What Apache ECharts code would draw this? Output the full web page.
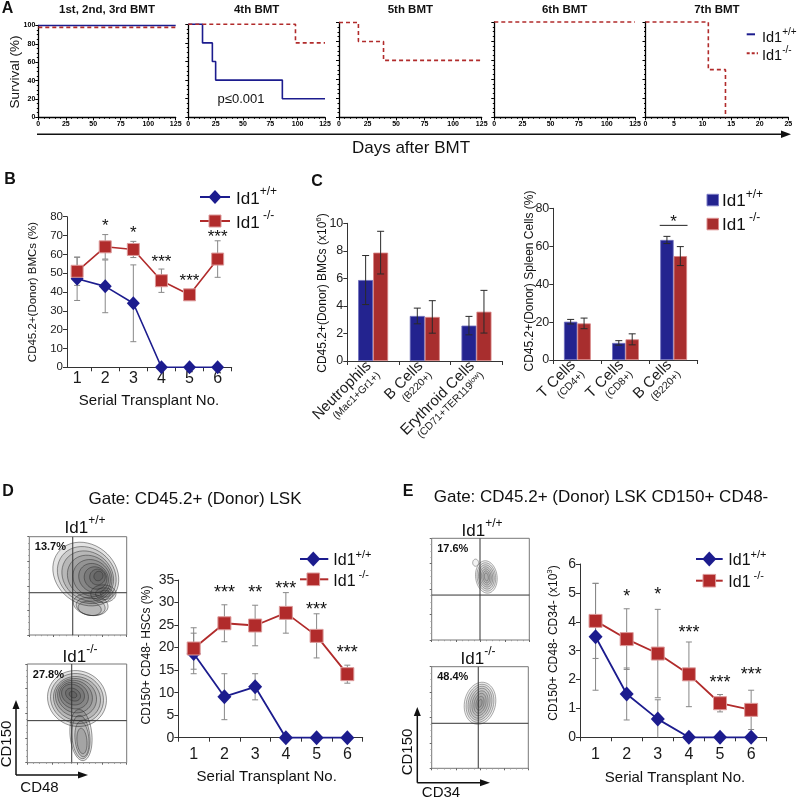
<!DOCTYPE html>
<html>
<head>
<meta charset="utf-8">
<script src="https://cdn.jsdelivr.net/npm/echarts@6/dist/echarts.min.js"></script>
<style>html,body{margin:0;padding:0;background:#fff;}#chart{width:800px;height:801px;}</style>
</head>
<body>
<div id="chart"></div>
<script>
// ================= DATA =================
// Panel A – survival after serial BMT (Kaplan–Meier steps: [day, % survival])
const A_titles = ['1st, 2nd, 3rd BMT', '4th BMT', '5th BMT', '6th BMT', '7th BMT'];
const A_xMax = [125, 125, 125, 125, 25];
const A_wt = [
  [[0,100],[125,100]],
  [[0,100],[13,80],[22,60],[25,40],[86,20],[125,20]],
  [], [], []
];
const A_ko = [
  [[0,98],[125,98]],
  [[0,100],[98,80],[125,80]],
  [[0,100],[17,80],[39,60],[125,60]],
  [[0,100],[125,100]],
  [[0,100],[11,50],[14,0]]
];
const A_pText = 'p≤0.001';

// Panel B – CD45.2+ donor BMCs (%)
const B_x = [1, 2, 3, 4, 5, 6];
const B_wt = [47, 43, 34, 0, 0, 0];
const B_wtErr = [11.5, 14, 20.4, 0, 0, 0];
const B_ko = [51, 64, 62.6, 46, 38.5, 57.5];
const B_koErr = [7.5, 6.5, 4.3, 6.2, 1, 9.7];
const B_stars = ['', '*', '*', '***', '***', '***'];
const B_starY = [null, 77.3, 73.5, 58, 48, 71.5];

// Panel C – lineage contribution
const C1_ids = ['Neu', 'Bc', 'Ery'];
const C1_cats = ['Neutrophils', 'B Cells', 'Erythroid Cells'];
const C1_sub = ['(Mac1+Gr1+)', '(B220+)', '(CD71+TER119^low)'];
const C1_wt = [5.88, 3.27, 2.57];
const C1_wtErr = [1.78, 0.57, 0.67];
const C1_ko = [7.87, 3.2, 3.58];
const C1_koErr = [1.55, 1.18, 1.55];
const C2_ids = ['CD4', 'CD8', 'B220'];
const C2_cats = ['T Cells', 'T Cells', 'B Cells'];
const C2_sub = ['(CD4+)', '(CD8+)', '(B220+)'];
const C2_wt = [20.2, 9.0, 63.3];
const C2_wtErr = [1.2, 1.2, 1.9];
const C2_ko = [19.3, 10.9, 54.8];
const C2_koErr = [2.8, 2.9, 5];
const C2_sigCat = 2, C2_sigY = 71, C2_sigLabel = '*';

// Panel D – CD150+ CD48- HSCs (%)
const D_cats = ['1', '2', '3', '4', '5', '6'];
const D_wt = [18.7, 9.1, 11.3, 0, 0, 0];
const D_wtErr = [4.5, 5.1, 2.9, 0, 0, 0];
const D_ko = [19.8, 25.4, 24.9, 27.7, 22.6, 14.1];
const D_koErr = [4.6, 4.1, 4.5, 4.5, 4.9, 2];
const D_stars = ['', '***', '**', '***', '***', '***'];
const D_starY = [null, 33.2, 33.2, 34.1, 29.4, 19.8];

// Panel E – CD150+ CD48- CD34- (x10^3)
const E_cats = ['1', '2', '3', '4', '5', '6'];
const E_wt = [3.48, 1.5, 0.63, 0, 0, 0];
const E_wtErr = [1.85, 0.9, 0.67, 0, 0, 0];
const E_ko = [4.03, 3.4, 2.9, 2.18, 1.18, 0.95];
const E_koErr = [1.3, 1.05, 1.53, 1.12, 0.3, 0.68];
const E_stars = ['', '*', '*', '***', '***', '***'];
const E_starY = [null, 5.04, 5.1, 3.77, 2.06, 2.33];

// Flow plots: gate [x%, y%], percentage, contour ellipses [cx, cy, rx, ry, angleDeg]
const DF_pct = ['13.7%', '27.8%'];
const EF_pct = ['17.6%', '48.4%'];
const DF1_gate = [44.6, 43], DF2_gate = [44.7, 42.6], EF1_gate = [49.5, 44.2], EF2_gate = [48.2, 44.3];
const DF1_cont = [
  [58,62,36,30,-38],[59,61,32,27,-38],[60,60,28,24,-38],[62,59,24,21,-38],[64,58,20,18,-38],
  [66,58,16,14,-38],[68,58,12,11,-38],[70,59,8,8,-38],[71,60,4.5,5,-38],
  [76,42,13,9,0],[77,42,9,6,0],[78,42,5,3.5,0],
  [63,31,18,11,-10],[63,29,15,9,-10],[62,27,12,7,-10]
];
const DF2_cont = [
  [50,65,30,28,-25],[50,65,27,25,-25],[50,65,24,22,-25],[49,66,21,19,-25],[48,67,18,16,-30],
  [47,68,15,13,-30],[46,69,12,10,-30],[46,69,8,6,-30],[46,69,4,3,-30],
  [54,28,11,26,5],[54,26,9,22,5],[55,24,7,18,5],[55,22,5,13,5]
];
const EF1_cont = [[56,62,11,16,8],[56,62,9.5,14,8],[56,62,8,12,8],[56,62,6.5,10,8],[56,62,5,8,8],[56,62,3.5,6,8],[56,62,2,4,8],[45,76,3,3.5,0]];
const EF2_cont = [[50,64,16,21,-15],[50,64,14,19,-15],[50,64,12,17,-15],[50,64,10,15,-15],[50,64,8,12.5,-15],[50,64,6,10,-15],[50,64,4,7,-15],[50,64,2,4,-15]];

// ================= LAYOUT / STYLE =================
const FONT = "'Liberation Sans', Arial, Helvetica, sans-serif";
const BLUE = '#1c1c8e', RED = '#b12b2b';
const BAR_BLUE = '#23238f', BAR_RED = '#a82e2e';
const L = {
  A: {lefts:[38.3,188.3,339,494.3,645.5], rights:[175.7,325,481.7,635,788.3], tops:[25.5,24.3,22.5,22,22], bottom:117.3},
  B: {left:67, top:216.7, right:231.7, bottom:367.3},
  C1:{left:347.3, top:223.3, right:502.3, bottom:361},
  C2:{left:553.3, top:208.3, right:697.7, bottom:360},
  D: {left:178.3, top:580, right:362.7, bottom:737.7},
  E: {left:580, top:564, right:766.7, bottom:737.3},
  DF1:{left:29.3, top:536.7, right:126.7, bottom:635},
  DF2:{left:27.3, top:664, right:126.7, bottom:762.7},
  EF1:{left:431.7, top:538.3, right:529.3, bottom:640},
  EF2:{left:431.7, top:666.7, right:528.3, bottom:768.3}
};

const grids = [], xAxes = [], yAxes = [], series = [], graphics = [];
function G(b, extra){ return Object.assign({left:b.left, top:b.top, width:b.right-b.left, height:b.bottom-b.top, containLabel:false, outerBoundsMode:'none'}, extra||{}); }
function axLine(c,w){ return {show:true, onZero:false, lineStyle:{color:c, width:w}}; }
function tick(len,c){ return {show:true, length:len, inside:false, lineStyle:{color:c||'#333', width:1}}; }
function lbl(fs, extra){ return Object.assign({fontSize:fs, fontFamily:FONT, color:'#1a1a1a'}, extra||{}); }
function txt(x,y,text,fs,o){ o=o||{}; return {type:'text', x:x, y:y, rotation:o.rot||0, silent:true, z:100,
  style:{text:text, fontSize:fs, fontFamily:FONT, fontWeight:o.bold?'bold':'normal', fill:o.color||'#111', align:o.align||'center', verticalAlign:'middle'}}; }
function idTxt(x,y,sup,fs,align){ return {type:'text', x:x, y:y, silent:true, z:100,
  style:{text:'{a|Id1}{s|'+sup+'}', align:align||'left', verticalAlign:'middle', fontFamily:FONT,
    rich:{a:{fontSize:fs, lineHeight:Math.round(fs*1.5), fontFamily:FONT, fill:'#111'},
          s:{fontSize:Math.round(fs*0.7), fontFamily:FONT, fill:'#111', verticalAlign:'top'}}}}; }
function gLine(x1,y1,x2,y2,color,w,dash){ return {type:'line', silent:true, z:100, shape:{x1,y1,x2,y2}, style:{stroke:color, lineWidth:w, lineDash:dash||null}}; }
function gPoly(pts,fill,stroke){ return {type:'polygon', silent:true, z:101, shape:{points:pts}, style:{fill:fill, stroke:stroke||null, lineWidth:1}}; }
function diamond(cx,cy,w,h){ return [[cx,cy-h],[cx+w,cy],[cx,cy+h],[cx-w,cy]]; }

function errBars(gi, xs, vals, errs, color, cap, dx, z){
  const pts = [];
  xs.forEach((x,i)=>{ if (errs[i] > 0) pts.push([x, vals[i], errs[i]]); });
  return {type:'custom', xAxisIndex:gi, yAxisIndex:gi, silent:true, z:z||2, clip:false,
    data: pts.map(p=>[p[0], p[1]]),
    renderItem(params, api){
      const d = pts[params.dataIndex];
      const top = api.coord([d[0], d[1]+d[2]]), bot = api.coord([d[0], Math.max(0, d[1]-d[2])]);
      const x = top[0] + (dx||0);
      const st = {stroke:color, lineWidth:1};
      const ch = [{type:'line', shape:{x1:x,y1:top[1],x2:x,y2:bot[1]}, style:st},
                  {type:'line', shape:{x1:x-cap,y1:top[1],x2:x+cap,y2:top[1]}, style:st}];
      if (d[1]-d[2] > 0) ch.push({type:'line', shape:{x1:x-cap,y1:bot[1],x2:x+cap,y2:bot[1]}, style:st});
      return {type:'group', children:ch};
    }};
}
function starSeries(gi, xs, ys, labels, fs){
  const pts = [];
  xs.forEach((x,i)=>{ if (labels[i]) pts.push([x, ys[i], i]); });
  return {type:'custom', xAxisIndex:gi, yAxisIndex:gi, silent:true, z:6, clip:false,
    data: pts.map(p=>[p[0], p[1]]),
    renderItem(params, api){
      const p = pts[params.dataIndex]; const c = api.coord([p[0], p[1]]);
      return {type:'text', x:c[0], y:c[1] + 0.27*fs, style:{text:labels[p[2]], fontSize:fs, fontFamily:FONT, fill:'#111', align:'center', verticalAlign:'middle'}};
    }};
}

// ---------- Panel A ----------
A_titles.forEach((t,i)=>{
  const gi = grids.length;
  grids.push(G({left:L.A.lefts[i], right:L.A.rights[i], top:L.A.tops[i], bottom:L.A.bottom}));
  xAxes.push({type:'value', gridIndex:gi, min:0, max:A_xMax[i], interval:A_xMax[i]/5,
    axisLine:axLine('#000',1.3), axisTick:tick(3,'#000'),
    minorTick:{show:true, splitNumber:5, length:1.5, lineStyle:{color:'#000'}},
    axisLabel:lbl(7,{fontWeight:'bold', color:'#000', margin:3}), splitLine:{show:false}});
  yAxes.push({type:'value', gridIndex:gi, min:0, max:100, interval:20,
    axisLine:axLine('#000',1.3), axisTick:tick(3,'#000'),
    minorTick:{show:true, splitNumber:4, length:1.5, lineStyle:{color:'#000'}},
    axisLabel:lbl(7,{show:i===0, fontWeight:'bold', color:'#000', margin:3}), splitLine:{show:false}});
  if (A_wt[i].length) series.push({type:'line', xAxisIndex:gi, yAxisIndex:gi, data:A_wt[i], step:'end', symbol:'none', clip:false, silent:true, z:4, lineStyle:{color:BLUE, width:1.6}});
  series.push({type:'line', xAxisIndex:gi, yAxisIndex:gi, data:A_ko[i], step:'end', symbol:'none', clip:false, silent:true, z:5, lineStyle:{color:RED, width:1.6, type:[4,3]}});
  graphics.push(txt((L.A.lefts[i]+L.A.rights[i])/2, 10, t, 11.5, {bold:true}));
});
graphics.push(txt(7.5, 8.5, 'A', 16, {bold:true}));
graphics.push(txt(15, 72, 'Survival (%)', 13.5, {rot:Math.PI/2}));
graphics.push(txt(241, 99, A_pText, 13));
graphics.push(gLine(37, 134.3, 783, 134.3, '#111', 1.5));
graphics.push(gPoly([[781,130.5],[791,134.3],[781,138.1]], '#111'));
graphics.push(txt(411, 148, 'Days after BMT', 17));
graphics.push(gLine(746.7, 34.3, 755, 34.3, BLUE, 2));
graphics.push(idTxt(762, 38, '+/+', 14.5));
graphics.push(gLine(746.7, 53.3, 758, 53.3, RED, 2, [3,2]));
graphics.push(idTxt(762, 56, '-/-', 14.5));

// ---------- Panel B ----------
const gB = grids.length; grids.push(G(L.B));
xAxes.push({type:'value', gridIndex:gB, min:0.64, max:6.5, axisLine:axLine('#333',1),
  axisTick:Object.assign(tick(4), {customValues:[1.5,2.5,3.5,4.5,5.5,6.5]}),
  axisLabel:lbl(16,{customValues:B_x, margin:3}), splitLine:{show:false}});
yAxes.push({type:'value', gridIndex:gB, min:0, max:80, interval:10, axisLine:axLine('#333',1), axisTick:tick(4),
  axisLabel:lbl(11.5,{margin:4, color:'#222'}), splitLine:{show:false}});
series.push(errBars(gB, B_x, B_wt, B_wtErr, '#888', 3, 0, 2));
series.push(errBars(gB, B_x, B_ko, B_koErr, '#888', 3, 0, 2));
series.push({type:'line', xAxisIndex:gB, yAxisIndex:gB, data:B_x.map((x,i)=>[x,B_wt[i]]), symbol:'diamond', symbolSize:[13,14], clip:false, silent:true, z:4,
  lineStyle:{color:BLUE, width:1.6}, itemStyle:{color:BLUE}});
series.push({type:'line', xAxisIndex:gB, yAxisIndex:gB, data:B_x.map((x,i)=>[x,B_ko[i]]), symbol:'rect', symbolSize:12, clip:false, silent:true, z:5,
  lineStyle:{color:RED, width:1.6}, itemStyle:{color:RED, borderColor:'#dc9a9a', borderWidth:1}});
series.push(starSeries(gB, B_x, B_starY, B_stars, 17));
graphics.push(txt(10, 180, 'B', 16, {bold:true}));
graphics.push(txt(33, 292, 'CD45.2+(Donor) BMCs (%)', 11.5, {rot:Math.PI/2}));
graphics.push(txt(149, 401, 'Serial Transplant No.', 15));
graphics.push(gLine(200, 197, 230, 197, BLUE, 2));
graphics.push(gPoly(diamond(215,197,6.5,7), BLUE));
graphics.push(idTxt(236, 199, '+/+', 17));
graphics.push(gLine(200, 221, 230, 221, RED, 2));
graphics.push({type:'rect', silent:true, z:101, shape:{x:209, y:215, width:12, height:12}, style:{fill:RED, stroke:'#dc9a9a', lineWidth:1}});
graphics.push(idTxt(236, 223, ' -/-', 17));

// ---------- Panel C ----------
function cFormatter(cats, subs){
  return (v, i) => '{m|' + cats[i] + '}\n{s|' + subs[i].replace('^low', '}{ss|low}{s|') + '}';
}
const cRich = {m:{fontSize:15, fontFamily:FONT, color:'#1a1a1a', lineHeight:16, align:'right'},
               s:{fontSize:10.5, fontFamily:FONT, color:'#1a1a1a', lineHeight:12, align:'right'},
               ss:{fontSize:7.5, fontFamily:FONT, color:'#1a1a1a', verticalAlign:'top', lineHeight:8}};
[[L.C1, C1_ids, C1_cats, C1_sub, C1_wt, C1_wtErr, C1_ko, C1_koErr, 10, 2, 15],
 [L.C2, C2_ids, C2_cats, C2_sub, C2_wt, C2_wtErr, C2_ko, C2_koErr, 80, 20, 13.4]].forEach(cfg=>{
  const [box, ids, cats, subs, wt, wtE, ko, koE, ymax, yint, bw] = cfg;
  const gi = grids.length; grids.push(G(box));
  xAxes.push({type:'category', gridIndex:gi, data:ids, boundaryGap:true, axisLine:axLine('#333',1), axisTick:tick(4),
    axisLabel:{interval:0, rotate:45, margin:7, formatter:cFormatter(cats, subs), rich:cRich}, splitLine:{show:false}});
  yAxes.push({type:'value', gridIndex:gi, min:0, max:ymax, interval:yint, axisLine:axLine('#333',1), axisTick:tick(4),
    axisLabel:lbl(12.5,{margin:4, color:'#222'}), splitLine:{show:false}});
  series.push({type:'bar', xAxisIndex:gi, yAxisIndex:gi, data:wt, barWidth:bw, barGap:'0%', silent:true, z:2,
    itemStyle:{color:BAR_BLUE, borderColor:'#6d6dbb', borderWidth:0.8}});
  series.push({type:'bar', xAxisIndex:gi, yAxisIndex:gi, data:ko, barWidth:bw, barGap:'0%', silent:true, z:2,
    itemStyle:{color:BAR_RED, borderColor:'#d98585', borderWidth:0.8}});
  series.push(errBars(gi, [0,1,2], wt, wtE, '#2a2a2a', 3.5, -bw/2, 4));
  series.push(errBars(gi, [0,1,2], ko, koE, '#2a2a2a', 3.5, bw/2, 4));
  if (ymax === 80) {
    series.push({type:'custom', xAxisIndex:gi, yAxisIndex:gi, silent:true, z:6, clip:false, data:[[C2_sigCat, C2_sigY]],
      renderItem(params, api){
        const c = api.coord([C2_sigCat, C2_sigY]);
        return {type:'group', children:[
          {type:'line', shape:{x1:c[0]-bw-0.5, y1:c[1], x2:c[0]+bw+0.5, y2:c[1]}, style:{stroke:'#222', lineWidth:1}},
          {type:'text', x:c[0], y:c[1]-8+0.27*17, style:{text:C2_sigLabel, fontSize:17, fontFamily:FONT, fill:'#111', align:'center', verticalAlign:'middle'}}
        ]};
      }});
  }
});
graphics.push(txt(317, 182, 'C', 16, {bold:true}));
graphics.push({type:'text', x:323, y:293, rotation:Math.PI/2, silent:true, z:100,
  style:{text:'{a|CD45.2+(Donor) BMCs (x10}{s|6}{a|)}', align:'center', verticalAlign:'middle',
    rich:{a:{fontSize:12, fontFamily:FONT, fill:'#111', lineHeight:16}, s:{fontSize:8, fontFamily:FONT, fill:'#111', verticalAlign:'top'}}}});
graphics.push(txt(530, 281, 'CD45.2+(Donor) Spleen Cells (%)', 12, {rot:Math.PI/2}));
graphics.push({type:'rect', silent:true, z:101, shape:{x:707, y:194.3, width:11.5, height:11.5}, style:{fill:BAR_BLUE, stroke:'#7a7ac4', lineWidth:1}});
graphics.push(idTxt(722, 201.7, '+/+', 17));
graphics.push({type:'rect', silent:true, z:101, shape:{x:707, y:218.3, width:11.5, height:11.5}, style:{fill:BAR_RED, stroke:'#dc8c8c', lineWidth:1}});
graphics.push(idTxt(722, 225, ' -/-', 17));

// ---------- Panels D & E line charts ----------
[[L.D, D_cats, D_wt, D_wtErr, D_ko, D_koErr, D_stars, D_starY, 35, 5],
 [L.E, E_cats, E_wt, E_wtErr, E_ko, E_koErr, E_stars, E_starY, 6, 1]].forEach(cfg=>{
  const [box, cats, wt, wtE, ko, koE, st, stY, ymax, yint] = cfg;
  const gi = grids.length; grids.push(G(box));
  xAxes.push({type:'category', gridIndex:gi, data:cats, boundaryGap:true, axisLine:axLine('#333',1), axisTick:tick(4),
    axisLabel:lbl(16,{margin:9, interval:0}), splitLine:{show:false}});
  yAxes.push({type:'value', gridIndex:gi, min:0, max:ymax, interval:yint, axisLine:axLine('#333',1), axisTick:tick(4),
    axisLabel:lbl(14,{margin:4, color:'#222'}), splitLine:{show:false}});
  const idx = cats.map((c,i)=>i);
  series.push(errBars(gi, idx, wt, wtE, '#888', 3, 0, 2));
  series.push(errBars(gi, idx, ko, koE, '#888', 3, 0, 2));
  series.push({type:'line', xAxisIndex:gi, yAxisIndex:gi, data:wt, symbol:'diamond', symbolSize:[14,15], clip:false, silent:true, z:4,
    lineStyle:{color:BLUE, width:1.8}, itemStyle:{color:BLUE}});
  series.push({type:'line', xAxisIndex:gi, yAxisIndex:gi, data:ko, symbol:'rect', symbolSize:13, clip:false, silent:true, z:5,
    lineStyle:{color:RED, width:1.8}, itemStyle:{color:RED, borderColor:'#dc9a9a', borderWidth:1}});
  series.push(starSeries(gi, idx, stY, st, 18));
});
graphics.push(txt(8, 492, 'D', 16, {bold:true}));
graphics.push(txt(195, 499.3, 'Gate: CD45.2+ (Donor) LSK', 17));
graphics.push(txt(146.7, 655, 'CD150+ CD48- HSCs (%)', 12, {rot:Math.PI/2}));
graphics.push(txt(266.7, 776.7, 'Serial Transplant No.', 15));
graphics.push(gLine(300, 559, 328.3, 559, BLUE, 2));
graphics.push(gPoly(diamond(313.3,559,7,7.5), BLUE));
graphics.push(idTxt(333.3, 561, '+/+', 16));
graphics.push(gLine(300, 579.3, 328.3, 579.3, RED, 2));
graphics.push({type:'rect', silent:true, z:101, shape:{x:307, y:573, width:12.6, height:12.6}, style:{fill:RED, stroke:'#dc9a9a', lineWidth:1}});
graphics.push(idTxt(333.3, 581.3, ' -/-', 16));

graphics.push(txt(408, 492, 'E', 16, {bold:true}));
graphics.push(txt(601, 497.3, 'Gate: CD45.2+ (Donor) LSK CD150+ CD48-', 17));
graphics.push({type:'text', x:553.3, y:643, rotation:Math.PI/2, silent:true, z:100,
  style:{text:'{a|CD150+ CD48- CD34- (x10}{s|3}{a|)}', align:'center', verticalAlign:'middle',
    rich:{a:{fontSize:12, fontFamily:FONT, fill:'#111', lineHeight:16}, s:{fontSize:8, fontFamily:FONT, fill:'#111', verticalAlign:'top'}}}});
graphics.push(txt(675, 778.3, 'Serial Transplant No.', 15));
graphics.push(gLine(696, 559, 722.7, 559, BLUE, 2));
graphics.push(gPoly(diamond(709.3,559,7,7.5), BLUE));
graphics.push(idTxt(728.3, 561, '+/+', 16));
graphics.push(gLine(696, 580.7, 722.7, 580.7, RED, 2));
graphics.push({type:'rect', silent:true, z:101, shape:{x:703, y:574.4, width:12.6, height:12.6}, style:{fill:RED, stroke:'#dc9a9a', lineWidth:1}});
graphics.push(idTxt(728.3, 582.7, ' -/-', 16));

// ---------- Flow cytometry contour plots ----------
function flow(box, contours, gate, fill, stroke, pct, sup, labelX, labelY){
  const gi = grids.length;
  grids.push(G(box, {show:true, borderColor:'#777', borderWidth:1, backgroundColor:'rgba(0,0,0,0)'}));
  const ax = {type:'value', gridIndex:gi, min:0, max:100, interval:25, axisLine:{show:false},
    axisTick:{show:true, length:2, lineStyle:{color:'#666'}},
    minorTick:{show:true, splitNumber:4, length:1.2, lineStyle:{color:'#999'}},
    axisLabel:{show:false}, splitLine:{show:false}};
  xAxes.push(Object.assign({}, ax));
  yAxes.push(Object.assign({}, ax));
  series.push({type:'custom', xAxisIndex:gi, yAxisIndex:gi, silent:true, z:2, clip:true,
    data:contours.map(c=>[c[0], c[1]]),
    renderItem(params, api){
      const [cx,cy,rx,ry,ang] = contours[params.dataIndex];
      const a = ang*Math.PI/180, pts = [];
      for (let k=0; k<48; k++){
        const t = k/48*2*Math.PI;
        pts.push(api.coord([cx + rx*Math.cos(t)*Math.cos(a) - ry*Math.sin(t)*Math.sin(a),
                            cy + rx*Math.cos(t)*Math.sin(a) + ry*Math.sin(t)*Math.cos(a)]));
      }
      return {type:'polygon', shape:{points:pts}, style:{fill:fill, stroke:stroke, lineWidth:0.6}};
    }});
  series.push({type:'custom', xAxisIndex:gi, yAxisIndex:gi, silent:true, z:3, clip:true, data:[gate],
    renderItem(params, api){
      const v0 = api.coord([gate[0], 0]), v1 = api.coord([gate[0], 100]);
      const h0 = api.coord([0, gate[1]]), h1 = api.coord([100, gate[1]]);
      return {type:'group', children:[
        {type:'line', shape:{x1:v0[0],y1:v0[1],x2:v1[0],y2:v1[1]}, style:{stroke:'#333', lineWidth:1}},
        {type:'line', shape:{x1:h0[0],y1:h0[1],x2:h1[0],y2:h1[1]}, style:{stroke:'#333', lineWidth:1}}]};
    }});
  graphics.push(txt(box.left + 5.5, box.top + 10.6, pct, 11, {bold:true, align:'left'}));
  graphics.push(idTxt(labelX, labelY, sup, 17, 'center'));
}
flow(L.DF1, DF1_cont, DF1_gate, 'rgba(30,30,30,0.12)', 'rgba(40,40,40,0.8)', DF_pct[0], '+/+', 85, 528);
flow(L.DF2, DF2_cont, DF2_gate, 'rgba(30,30,30,0.12)', 'rgba(40,40,40,0.8)', DF_pct[1], '-/-', 80, 657);
flow(L.EF1, EF1_cont, EF1_gate, 'rgba(0,0,0,0.05)', 'rgba(70,70,70,0.75)', EF_pct[0], '+/+', 482, 531);
flow(L.EF2, EF2_cont, EF2_gate, 'rgba(0,0,0,0.06)', 'rgba(70,70,70,0.75)', EF_pct[1], '-/-', 478, 659);
// axis arrows for flow plots
graphics.push(gLine(16, 775, 16, 707, '#111', 1.5));
graphics.push(gPoly([[12.5,709],[16,700],[19.5,709]], '#111'));
graphics.push(gLine(16, 775, 80, 775, '#111', 1.5));
graphics.push(gPoly([[78,771.5],[88,775],[78,778.5]], '#111'));
graphics.push(txt(6.7, 744, 'CD150', 15, {rot:Math.PI/2}));
graphics.push(txt(39.5, 788, 'CD48', 15));
graphics.push(gLine(417.3, 782.7, 417.3, 714, '#111', 1.5));
graphics.push(gPoly([[413.8,716],[417.3,707],[420.8,716]], '#111'));
graphics.push(gLine(417.3, 782.7, 482, 782.7, '#111', 1.5));
graphics.push(gPoly([[480,779.2],[490,782.7],[480,786.2]], '#111'));
graphics.push(txt(408.3, 752, 'CD150', 15, {rot:Math.PI/2}));
graphics.push(txt(441, 793, 'CD34', 15));

// ================= RENDER =================
const chart = echarts.init(document.getElementById('chart'), null, {renderer:'canvas', width:800, height:801});
chart.setOption({
  animation:false,
  backgroundColor:'#fff',
  textStyle:{fontFamily:FONT},
  grid:grids, xAxis:xAxes, yAxis:yAxes, series:series, graphic:{elements:graphics}
});
</script>
</body>
</html>
